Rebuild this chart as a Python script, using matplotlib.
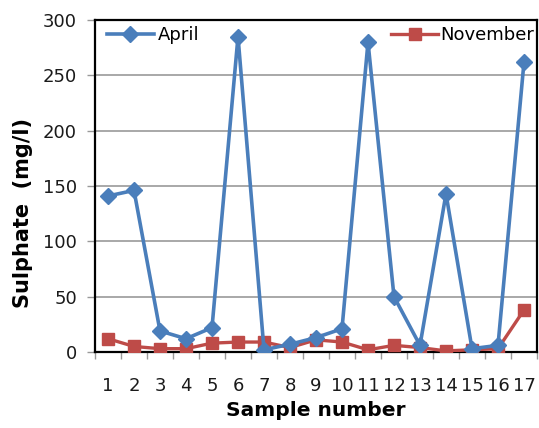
import numpy as np
import matplotlib
matplotlib.use('Agg')
import matplotlib.pyplot as plt
from matplotlib.lines import Line2D

plt.rcParams['font.family'] = ['DejaVu Sans']

samples = [str(i) for i in range(1, 18)]
april = [141, 146, 19, 12, 22, 285, 2, 7, 13, 21, 280, 50, 6, 143, 3, 6, 262]
november = [12, 5, 3, 3, 8, 9, 9, 4, 11, 9, 2, 6, 4, 1, 2, 3, 38]

BLUE = '#4A7EBB'
RED = '#BE4B48'

fig = plt.figure(figsize=(5.39, 4.28), dpi=100)
ax = fig.add_axes([95 / 539, 1 - 352 / 428, 442 / 539, 332 / 428])

x = np.arange(len(samples))
ax.plot(x, november, color=RED, lw=2.4, marker='s', ms=9, mec=RED, zorder=3)
ax.plot(x, april, color=BLUE, lw=2.6, marker='D', ms=8, mec=BLUE, zorder=4)

ax.set_xlim(-0.5, len(samples) - 0.5)
ax.set_ylim(0, 300)
ax.set_yticks(range(0, 301, 50))
ax.set_xticks(x)
ax.set_xticklabels(samples, fontsize=13, color='#1a1a1a')
ax.set_xticks(np.arange(-0.5, len(samples), 1), minor=True)
ax.tick_params(axis='x', which='major', length=0, pad=18)
ax.tick_params(axis='x', which='minor', length=5, width=1, color='#999999')
ax.tick_params(axis='y', length=6, width=1, color='#999999', labelsize=13,
               labelcolor='#1a1a1a', pad=7)

ax.grid(axis='y', color='#999999', lw=1.2)
ax.set_axisbelow(True)
for s in ax.spines.values():
    s.set_color('black')
    s.set_linewidth(1.6)

ax.set_ylabel('Sulphate  (mg/l)', fontsize=15, fontweight='bold')
ax.yaxis.set_label_coords(-0.14, 0.42)
ax.set_xlabel('Sample number', fontsize=14.5, fontweight='bold', labelpad=4)

h1 = Line2D([], [], color=BLUE, lw=2.6, marker='D', ms=8)
h2 = Line2D([], [], color=RED, lw=2.4, marker='s', ms=9)
leg1 = ax.legend([h1], ['April'], loc='upper left', frameon=False, fontsize=13,
                 bbox_to_anchor=(-0.01, 1.03), handlelength=2.6, handletextpad=0.2)
ax.add_artist(leg1)
ax.legend([h2], ['November'], loc='upper right', frameon=False, fontsize=13,
          bbox_to_anchor=(1.03, 1.03), handlelength=2.6, handletextpad=0.1)

fig.savefig('out.png', dpi=100)
